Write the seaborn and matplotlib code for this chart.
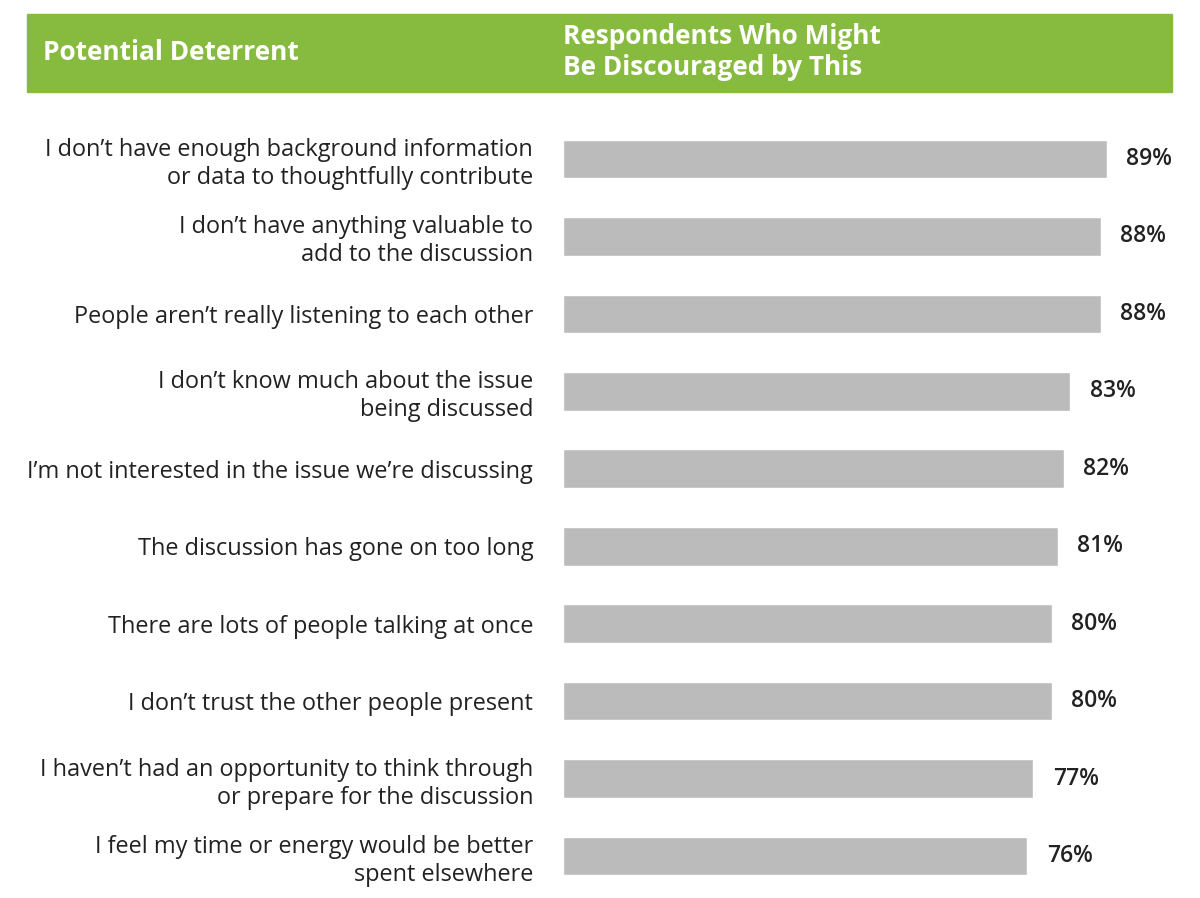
import matplotlib
matplotlib.use("Agg")
import matplotlib.pyplot as plt
import matplotlib.patches as mpatches
import seaborn as sns
import pandas as pd

#%% data
deterrents = [
    "I don\u2019t have enough background information\nor data to thoughtfully contribute",
    "I don\u2019t have anything valuable to\nadd to the discussion",
    "People aren\u2019t really listening to each other",
    "I don\u2019t know much about the issue\nbeing discussed",
    "I\u2019m not interested in the issue we\u2019re discussing",
    "The discussion has gone on too long",
    "There are lots of people talking at once",
    "I don\u2019t trust the other people present",
    "I haven\u2019t had an opportunity to think through\nor prepare for the discussion",
    "I feel my time or energy would be better\nspent elsewhere",
]
percent = [89, 88, 88, 83, 82, 81, 80, 80, 77, 76]
header_left = "Potential Deterrent"
header_right = "Respondents Who Might\nBe Discouraged by This"

#%% setup
sns.set_style("white")
plt.rcParams["font.family"] = ["Open Sans", "DejaVu Sans"]
green = "#86bb40"
grey = "#bbbbbb"
text_col = "#222222"

df = pd.DataFrame({"deterrent": deterrents, "pct": percent})

fig = plt.figure(figsize=(12, 8.98), dpi=100)
ax = fig.add_axes([563 / 1200, 1 - 894.7 / 898, 611 / 1200, 774.4 / 898])

sns.barplot(data=df, y="deterrent", x="pct", orient="h", color=grey,
            width=0.5, saturation=1, ax=ax)
ax.set_xlim(0, 100)
ax.set_ylim(9.5, -0.5)
ax.set_xlabel("")
ax.set_ylabel("")
ax.set_xticks([])
sns.despine(ax=ax, left=True, bottom=True)
ax.tick_params(axis="y", length=0, pad=21.5, labelsize=16.9, labelcolor=text_col)
for lbl in ax.get_yticklabels():
    lbl.set_linespacing(1.22)

ax.bar_label(ax.containers[0], labels=[f"{v}%" for v in percent], padding=14,
             fontsize=16.5, fontweight="semibold", color=text_col)

#%% green header band
fig.patches.append(mpatches.Rectangle((27 / 1200, 1 - 92 / 898), 1145 / 1200, 78 / 898,
                                      transform=fig.transFigure, color=green, zorder=0))
fig.text(43 / 1200, 1 - 52 / 898, header_left, color="white", fontsize=18.9,
         fontweight="bold", va="center", ha="left")
fig.text(563 / 1200, 1 - 52 / 898, header_right, color="white", fontsize=18.9,
         fontweight="bold", va="center", ha="left", linespacing=1.22)

plt.savefig("out.png", dpi=100)
